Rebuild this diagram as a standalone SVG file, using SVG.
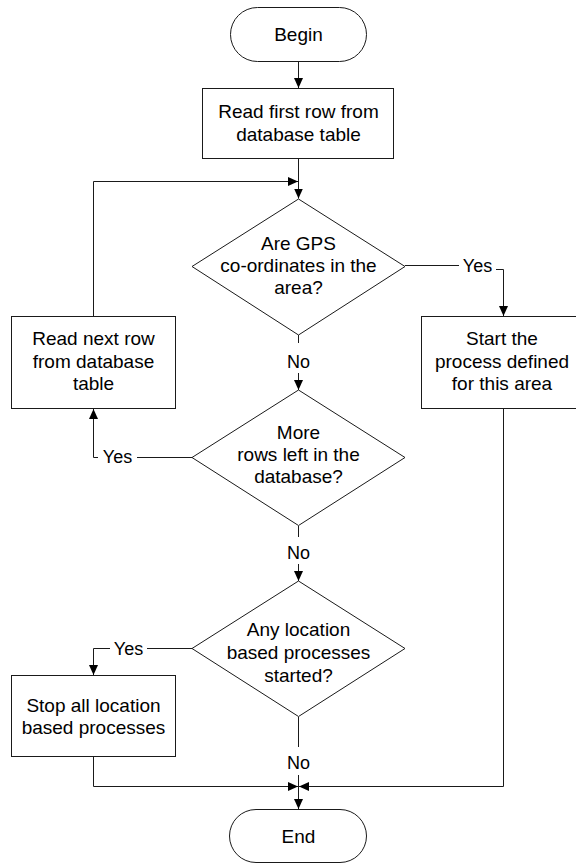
<svg xmlns="http://www.w3.org/2000/svg" width="576" height="863" viewBox="0 0 576 863">
  <style>
    .shape { fill: #ffffff; stroke: #1a1a1a; stroke-width: 1; }
    .txt { font-family: "Liberation Sans", Arial, sans-serif; font-size: 19px; fill: #000000; text-anchor: middle; }
    .lbl { font-family: "Liberation Sans", Arial, sans-serif; font-size: 18px; fill: #000000; text-anchor: middle; }
    .wire { fill: none; stroke: #1a1a1a; stroke-width: 1; }
    .wire.arrow { marker-end: url(#head); }
  </style>
  <defs>
    <marker id="head" markerUnits="userSpaceOnUse" markerWidth="10" markerHeight="10" refX="10" refY="4.5" orient="auto">
      <path d="M0,0 L10,4.5 L0,9 Z" fill="#000000"/>
    </marker>
  </defs>
  <rect width="576" height="863" fill="#ffffff"/>

  <!-- connectors -->
  <g id="connectors">
    <path class="wire arrow" d="M298.5,61 V88"/>
    <path class="wire arrow" d="M298.5,159 V198.5"/>
    <path class="wire arrow" d="M93.5,316 V181.5 H298"/>
    <!-- GPS check: Yes -->
    <path class="wire" d="M405,265.5 H459"/>
    <path class="wire arrow" d="M496,269.5 H503.5 V316"/>
    <!-- GPS check: No -->
    <path class="wire" d="M298.5,335 V343"/>
    <path class="wire arrow" d="M298.5,373 V390"/>
    <!-- more rows: Yes -->
    <path class="wire" d="M192,457.5 H137"/>
    <path class="wire arrow" d="M98,457.5 H93.5 V409"/>
    <!-- more rows: No -->
    <path class="wire" d="M298.5,526 V537"/>
    <path class="wire arrow" d="M298.5,564 V581"/>
    <!-- processes started: Yes -->
    <path class="wire" d="M192,648.5 H147"/>
    <path class="wire arrow" d="M110,648.5 H93.5 V675"/>
    <!-- processes started: No -->
    <path class="wire" d="M298.5,717 V747"/>
    <path class="wire arrow" d="M298.5,775 V809"/>
    <!-- merge into End -->
    <path class="wire arrow" d="M93.5,757 V786.5 H298"/>
    <path class="wire arrow" d="M503.5,408 V786.5 H299"/>
    <!-- branch labels -->
    <text class="lbl" x="477.5" y="271.5">Yes</text>
    <text class="lbl" x="298.5" y="368">No</text>
    <text class="lbl" x="117.5" y="463">Yes</text>
    <text class="lbl" x="298.5" y="559">No</text>
    <text class="lbl" x="128.5" y="655">Yes</text>
    <text class="lbl" x="298.5" y="769">No</text>
  </g>

  <g id="begin">
    <rect class="shape" x="230.5" y="7.5" width="136" height="54" rx="27" ry="27"/>
    <text class="txt" x="298.5" y="40.5">Begin</text>
  </g>

  <g id="read-first">
    <rect class="shape" x="202.5" y="88.5" width="191" height="70"/>
    <text class="txt" x="298.5" y="118">Read first row from</text>
    <text class="txt" x="298.5" y="141">database table</text>
  </g>

  <g id="gps-check">
    <polygon class="shape" points="298.5,199 405,266.5 298.5,335 192,266.5"/>
    <text class="txt" x="298.5" y="250">Are GPS</text>
    <text class="txt" x="298.5" y="272">co-ordinates in the</text>
    <text class="txt" x="298.5" y="294">area?</text>
  </g>

  <g id="read-next">
    <rect class="shape" x="11.5" y="316.5" width="164" height="92"/>
    <text class="txt" x="93.5" y="345">Read next row</text>
    <text class="txt" x="93.5" y="367.5">from database</text>
    <text class="txt" x="93.5" y="390">table</text>
  </g>

  <g id="start-process">
    <rect class="shape" x="421.5" y="316.5" width="164" height="92"/>
    <text class="txt" x="502" y="345">Start the</text>
    <text class="txt" x="502" y="367.5">process defined</text>
    <text class="txt" x="502" y="390">for this area</text>
  </g>

  <g id="more-rows">
    <polygon class="shape" points="298.5,390 405,457.5 298.5,525.5 192,457.5"/>
    <text class="txt" x="298.5" y="439">More</text>
    <text class="txt" x="298.5" y="461">rows left in the</text>
    <text class="txt" x="298.5" y="483">database?</text>
  </g>

  <g id="any-started">
    <polygon class="shape" points="298.5,581 405,648.5 298.5,716.5 192,648.5"/>
    <text class="txt" x="298.5" y="636">Any location</text>
    <text class="txt" x="298.5" y="659">based processes</text>
    <text class="txt" x="298.5" y="682">started?</text>
  </g>

  <g id="stop-all">
    <rect class="shape" x="11.5" y="675.5" width="164" height="81"/>
    <text class="txt" x="93.5" y="711.5">Stop all location</text>
    <text class="txt" x="93.5" y="733.5">based processes</text>
  </g>

  <g id="end">
    <rect class="shape" x="229.5" y="809.5" width="137" height="53" rx="26.5" ry="26.5"/>
    <text class="txt" x="298.5" y="843">End</text>
  </g>
</svg>
